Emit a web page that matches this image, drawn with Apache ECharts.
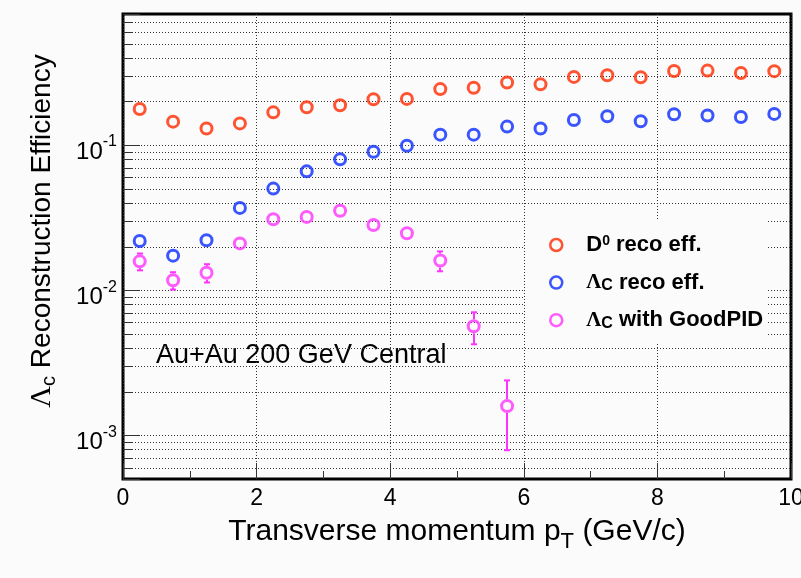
<!DOCTYPE html>
<html><head><meta charset="utf-8">
<script src="https://cdn.jsdelivr.net/npm/echarts@6/dist/echarts.min.js"></script>
<style>html,body{margin:0;padding:0;background:#fbfbfb}#c{width:801px;height:578px}</style>
</head><body><div id="c"></div>
<script>
// ---- data ----
const ptCenters = [0.25,0.75,1.25,1.75,2.25,2.75,3.25,3.75,4.25,4.75,5.25,5.75,6.25,6.75,7.25,7.75,8.25,8.75,9.25,9.75];
const d0Eff = [0.177,0.145,0.130,0.141,0.168,0.182,0.188,0.207,0.208,0.243,0.248,0.270,0.262,0.295,0.303,0.293,0.324,0.326,0.314,0.323];
const d0Err = [0.004,0.003,0.003,0.003,0.004,0.004,0.004,0.005,0.005,0.006,0.006,0.007,0.007,0.008,0.008,0.008,0.009,0.009,0.009,0.009];
const lcEff = [0.0218,0.0173,0.0221,0.0369,0.0501,0.0659,0.0797,0.0900,0.0989,0.118,0.118,0.134,0.130,0.149,0.158,0.146,0.163,0.160,0.156,0.164];
const lcErr = [0.0008,0.0007,0.0008,0.0010,0.0012,0.0014,0.0016,0.0018,0.0020,0.0024,0.0025,0.0030,0.0030,0.0035,0.0037,0.0037,0.0040,0.0042,0.0042,0.0045];
const lcPidEff = [0.0158,0.0117,0.0132,0.0210,0.0308,0.0320,0.0353,0.0281,0.0247,0.0160,0.00564,0.00159];
const lcPidErr = [0.0021,0.0016,0.0019,0.0015,0.0018,0.0020,0.0022,0.0020,0.0022,0.0025,0.0014,0.0008];
const seriesNames = ['D0 reco eff.', 'Λc reco eff.', 'Λc with GoodPID'];
const legendRich = ['{b|D}{sup|0}{b| reco eff.}', '{l|Λ}{sub|C}{b| reco eff.}', '{l|Λ}{sub|C}{b| with GoodPID}'];
const yDecades = [1e-3, 1e-2, 1e-1];
const yGridValues = [6e-4,7e-4,8e-4,9e-4,1e-3,2e-3,3e-3,4e-3,5e-3,6e-3,7e-3,8e-3,9e-3,1e-2,2e-2,3e-2,4e-2,5e-2,6e-2,7e-2,8e-2,9e-2,0.1,0.2,0.3,0.4,0.5,0.6,0.7];
const xMin = 0, xMax = 10, xStep = 2;
const yMin = 5e-4, yMax = 0.8;
const xTitle = '{n|Transverse momentum p}{sub|T}{n| (GeV/c)}';
const yTitle = '{l|Λ}{sub|c}{n| Reconstruction Efficiency}';
const noteText = 'Au+Au 200 GeV Central';

const FONT = '"Liberation Sans", Arial, Helvetica, sans-serif';
const SERIF = '"Liberation Serif", "DejaVu Serif", serif';
const colors = ['#ff2a00', '#0a2cff', '#ff33ff'];
const BG = '#fbfbfb';

const chart = echarts.init(document.getElementById('c'), null, {renderer: 'canvas'});

function isDecade(v) { const e = Math.log10(v); return Math.abs(e - Math.round(e)) < 1e-6; }

function errSeries(name, ys, errs, color) {
  return {
    type: 'custom', name: name, z: 3, silent: true,
    data: ys.map((y, i) => [ptCenters[i], y, y - errs[i], y + errs[i]]),
    encode: {x: 0, y: [1, 2, 3]},
    renderItem: function (params, api) {
      const x = api.value(0);
      const c = api.coord([x, api.value(1)]);
      const lo = api.coord([x, api.value(2)]);
      const hi = api.coord([x, api.value(3)]);
      const r = 7, cw = 3, ch = [];
      const px = Math.round(c[0]);
      if (hi[1] < c[1] - r) {
        ch.push({type: 'line', shape: {x1: px, y1: c[1] - r, x2: px, y2: hi[1]}, style: {stroke: color, lineWidth: 2}});
        ch.push({type: 'line', shape: {x1: px - cw, y1: hi[1], x2: px + cw, y2: hi[1]}, style: {stroke: color, lineWidth: 2}});
      }
      if (lo[1] > c[1] + r) {
        ch.push({type: 'line', shape: {x1: px, y1: c[1] + r, x2: px, y2: lo[1]}, style: {stroke: color, lineWidth: 2}});
        ch.push({type: 'line', shape: {x1: px - cw, y1: lo[1], x2: px + cw, y2: lo[1]}, style: {stroke: color, lineWidth: 2}});
      }
      return {type: 'group', children: ch};
    }
  };
}

function pointSeries(name, ys, color) {
  return {
    type: 'scatter', name: name, z: 4,
    data: ys.map((y, i) => [ptCenters[i], y]),
    symbol: 'circle', symbolSize: 11,
    itemStyle: {color: 'rgba(0,0,0,0)', borderColor: color, borderWidth: 3},
    emphasis: {disabled: true}
  };
}

const gridSeries = {
  type: 'custom', name: 'ygrid', z: 1, silent: true,
  data: yGridValues.map(v => [xMin, v]),
  encode: {x: 0, y: 1},
  renderItem: function (params, api) {
    const v = api.value(1);
    const p0 = api.coord([xMin, v]);
    const p1 = api.coord([xMax, v]);
    const y = Math.round(p0[1]) + 0.5;
    const ch = [{type: 'line', shape: {x1: p0[0], y1: y, x2: p1[0], y2: y}, style: {stroke: '#333', lineWidth: 1, lineDash: [1, 2]}}];
    if (!isDecade(v)) ch.push({type: 'line', shape: {x1: p0[0], y1: y, x2: p0[0] + 9, y2: y}, style: {stroke: '#333', lineWidth: 1}});
    return {type: 'group', children: ch};
  }
};

const option = {
  backgroundColor: BG,
  animation: false,
  grid: {left: 123, top: 14, right: 10, bottom: 99, show: true, borderWidth: 3, borderColor: '#000', backgroundColor: 'transparent', outerBoundsMode: 'none', containLabel: false},
  xAxis: {
    type: 'value', min: xMin, max: xMax, interval: xStep,
    axisLine: {show: false},
    axisTick: {show: true, inside: true, length: 16, lineStyle: {color: '#333', width: 1}},
    minorTick: {show: true, splitNumber: 2, length: 8, lineStyle: {color: '#333', width: 1}},
    splitLine: {show: true, lineStyle: {color: '#333', width: 1, type: [1, 2]}},
    axisLabel: {fontSize: 23, color: '#000', fontFamily: FONT, margin: 8, showMaxLabel: true, hideOverlap: false},
    name: xTitle, nameLocation: 'middle', nameGap: 38, nameMoveOverlap: false,
    nameTextStyle: {
      color: '#000', fontFamily: FONT, fontSize: 30,
      rich: {
        n: {fontSize: 30, fontFamily: FONT, color: '#000', lineHeight: 36, verticalAlign: 'top'},
        sub: {fontSize: 22, fontFamily: FONT, color: '#000', lineHeight: 22, verticalAlign: 'bottom', padding: [30, 0, 0, 0]}
      }
    }
  },
  yAxis: {
    type: 'log', logBase: 10, min: yMin, max: yMax,
    axisLine: {show: false},
    splitLine: {show: false},
    axisTick: {show: true, inside: true, length: 17, lineStyle: {color: '#333', width: 1}},
    axisLabel: {
      margin: 6, color: '#000', padding: [14, 0, 0, 0],
      formatter: function (v) {
        if (!yDecades.some(d => Math.abs(Math.log10(d) - Math.log10(v)) < 1e-6)) return '';
        return '{b|10}{s|' + Math.round(Math.log10(v)) + '}';
      },
      rich: {
        b: {fontSize: 24, fontFamily: FONT, color: '#000', lineHeight: 36},
        s: {fontSize: 16, fontFamily: FONT, color: '#000', lineHeight: 16, verticalAlign: 'top'}
      }
    }
  },
  legend: {
    orient: 'vertical', left: 525, top: 221,
    padding: [13, 4, 12, 24],
    backgroundColor: BG,
    data: seriesNames,
    icon: 'circle', itemWidth: 50, itemHeight: 12, itemGap: 15.6,
    itemStyle: {borderWidth: 2.5},
    selectedMode: false,
    formatter: function (name) { return legendRich[seriesNames.indexOf(name)]; },
    textStyle: {
      color: '#000', fontFamily: FONT, fontSize: 22, fontWeight: 'bold', lineHeight: 22,
      rich: {
        b: {fontSize: 22, fontWeight: 'bold', fontFamily: FONT, color: '#000', lineHeight: 22},
        sup: {fontSize: 14, fontWeight: 'bold', fontFamily: FONT, color: '#000', lineHeight: 14, verticalAlign: 'top'},
        l: {fontSize: 21, fontFamily: SERIF, color: '#000', lineHeight: 22},
        sub: {fontSize: 16, fontWeight: 'bold', fontFamily: FONT, color: '#000', lineHeight: 16, verticalAlign: 'bottom', padding: [6, 0, 0, 0]}
      }
    }
  },
  graphic: [
    {type: 'text', x: 42, y: 231, rotation: Math.PI / 2, silent: true,
     style: {text: yTitle, align: 'center', verticalAlign: 'middle', fill: '#000',
       rich: {
         n: {fontSize: 28, fontFamily: FONT, fill: '#000', lineHeight: 34},
         l: {fontSize: 30, fontFamily: SERIF, fill: '#000', lineHeight: 34},
         sub: {fontSize: 20, fontFamily: FONT, fill: '#000', lineHeight: 20, verticalAlign: 'bottom', padding: [8, 0, 0, 0]}
       }}},
    {type: 'text', x: 156, y: 356, silent: true,
     style: {text: noteText, fontSize: 27, fontFamily: FONT, fill: '#000', align: 'left', verticalAlign: 'middle'}}
  ],
  series: [
    gridSeries,
    errSeries('e0', d0Eff, d0Err, colors[0]),
    errSeries('e1', lcEff, lcErr, colors[1]),
    errSeries('e2', lcPidEff, lcPidErr, colors[2]),
    pointSeries(seriesNames[0], d0Eff, colors[0]),
    pointSeries(seriesNames[1], lcEff, colors[1]),
    pointSeries(seriesNames[2], lcPidEff, colors[2])
  ]
};
chart.setOption(option);
</script>
</body></html>
